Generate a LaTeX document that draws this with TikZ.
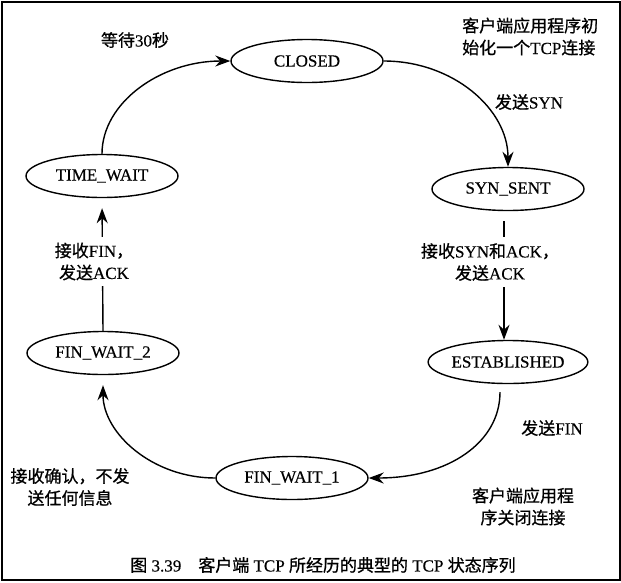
\documentclass[tikz,border=0pt]{standalone}
\usepackage{fontspec}
\setmainfont{Liberation Serif}[FakeBold=0.4]
\newfontfamily\zhfont{Noto Sans CJK SC}[FakeBold=0.8]
\newcommand\zh[1]{{\zhfont #1}}
\usetikzlibrary{shapes.geometric,arrows.meta}
\begin{document}
\begin{tikzpicture}[x=1pt,y=-1pt,
  state/.style={ellipse,draw,line width=1.4pt,minimum width=152pt,
    minimum height=43pt,inner sep=0pt,font=\fontsize{17}{20}\selectfont},
  trans/.style={line width=1.4pt,-{Stealth[length=15pt,width=11pt]}},
  note/.style={font=\fontsize{17}{22}\selectfont,inner sep=0pt,align=center},
  gapnote/.style={note,fill=white,inner xsep=2pt,inner ysep=6pt},
  caption/.style={font=\fontsize{17}{19}\selectfont,inner sep=0pt}
  ]
\useasboundingbox (0,0) rectangle (621,582);
% outer frame
\draw[line width=2pt] (1.5,1.5) rectangle (619.5,580);

% states of the client TCP
\node[state] (CL)  at (307,61)  {CLOSED};
\node[state] (SS)  at (508,189) {SYN\_SENT};
\node[state] (ES)  at (508,362) {ESTABLISHED};
\node[state] (FW1) at (292,478) {FIN\_WAIT\_1};
\node[state] (FW2) at (103,353) {FIN\_WAIT\_2};
\node[state] (TW)  at (102,176) {TIME\_WAIT};

% transitions
\draw[trans] (CL.east) .. controls +(69,0) and +(0,-58) .. (SS.north);
\draw[trans,shorten <=10pt] ([xshift=-4pt]SS.south) -- ([xshift=-4pt]ES.north);
\draw[trans,shorten <=8pt] ([xshift=-8pt]ES.south) .. controls +(0,58) and +(80,0) .. (FW1.east);
\draw[trans,shorten >=10pt] (FW1.west) .. controls +(-63,0) and +(0,58) .. (FW2.south);
\draw[trans,shorten >=10pt] (FW2.north) -- (TW.south);
\draw[trans] (TW.north) .. controls +(0,-51) and +(-70,0) .. (CL.west);

% transition labels
\node[note] (wait) at (135,40) {\zh{等待}30\zh{秒}};
\node[note,anchor=west,align=left] (open) at (462,36.5)
  {\zh{客户端应用程序初}\\\zh{始化一个}TCP\zh{连接}};
\node[note] (sendsyn) at (529,102) {\zh{发送}SYN};
\node[gapnote] (synack) at (490,262) {\zh{接收}SYN\zh{和}ACK\zh{，}\\\zh{发送}ACK};
\node[note] (sendfin) at (552,428) {\zh{发送}FIN};
\node[note] (close) at (523,506.5) {\zh{客户端应用程}\\\zh{序关闭连接}};
\node[note] (recvack) at (70,487) {\zh{接收确认，不发}\\\zh{送任何信息}};
\node[gapnote] (recvfin) at (94,261.5) {\zh{接收}FIN\zh{，}\\\zh{发送}ACK};

% figure caption
\node[caption] (cap) at (323,565)
  {\zh{图} 3.39\quad\zh{客户端} TCP \zh{所经历的典型的} TCP \zh{状态序列}};
\end{tikzpicture}
\end{document}
